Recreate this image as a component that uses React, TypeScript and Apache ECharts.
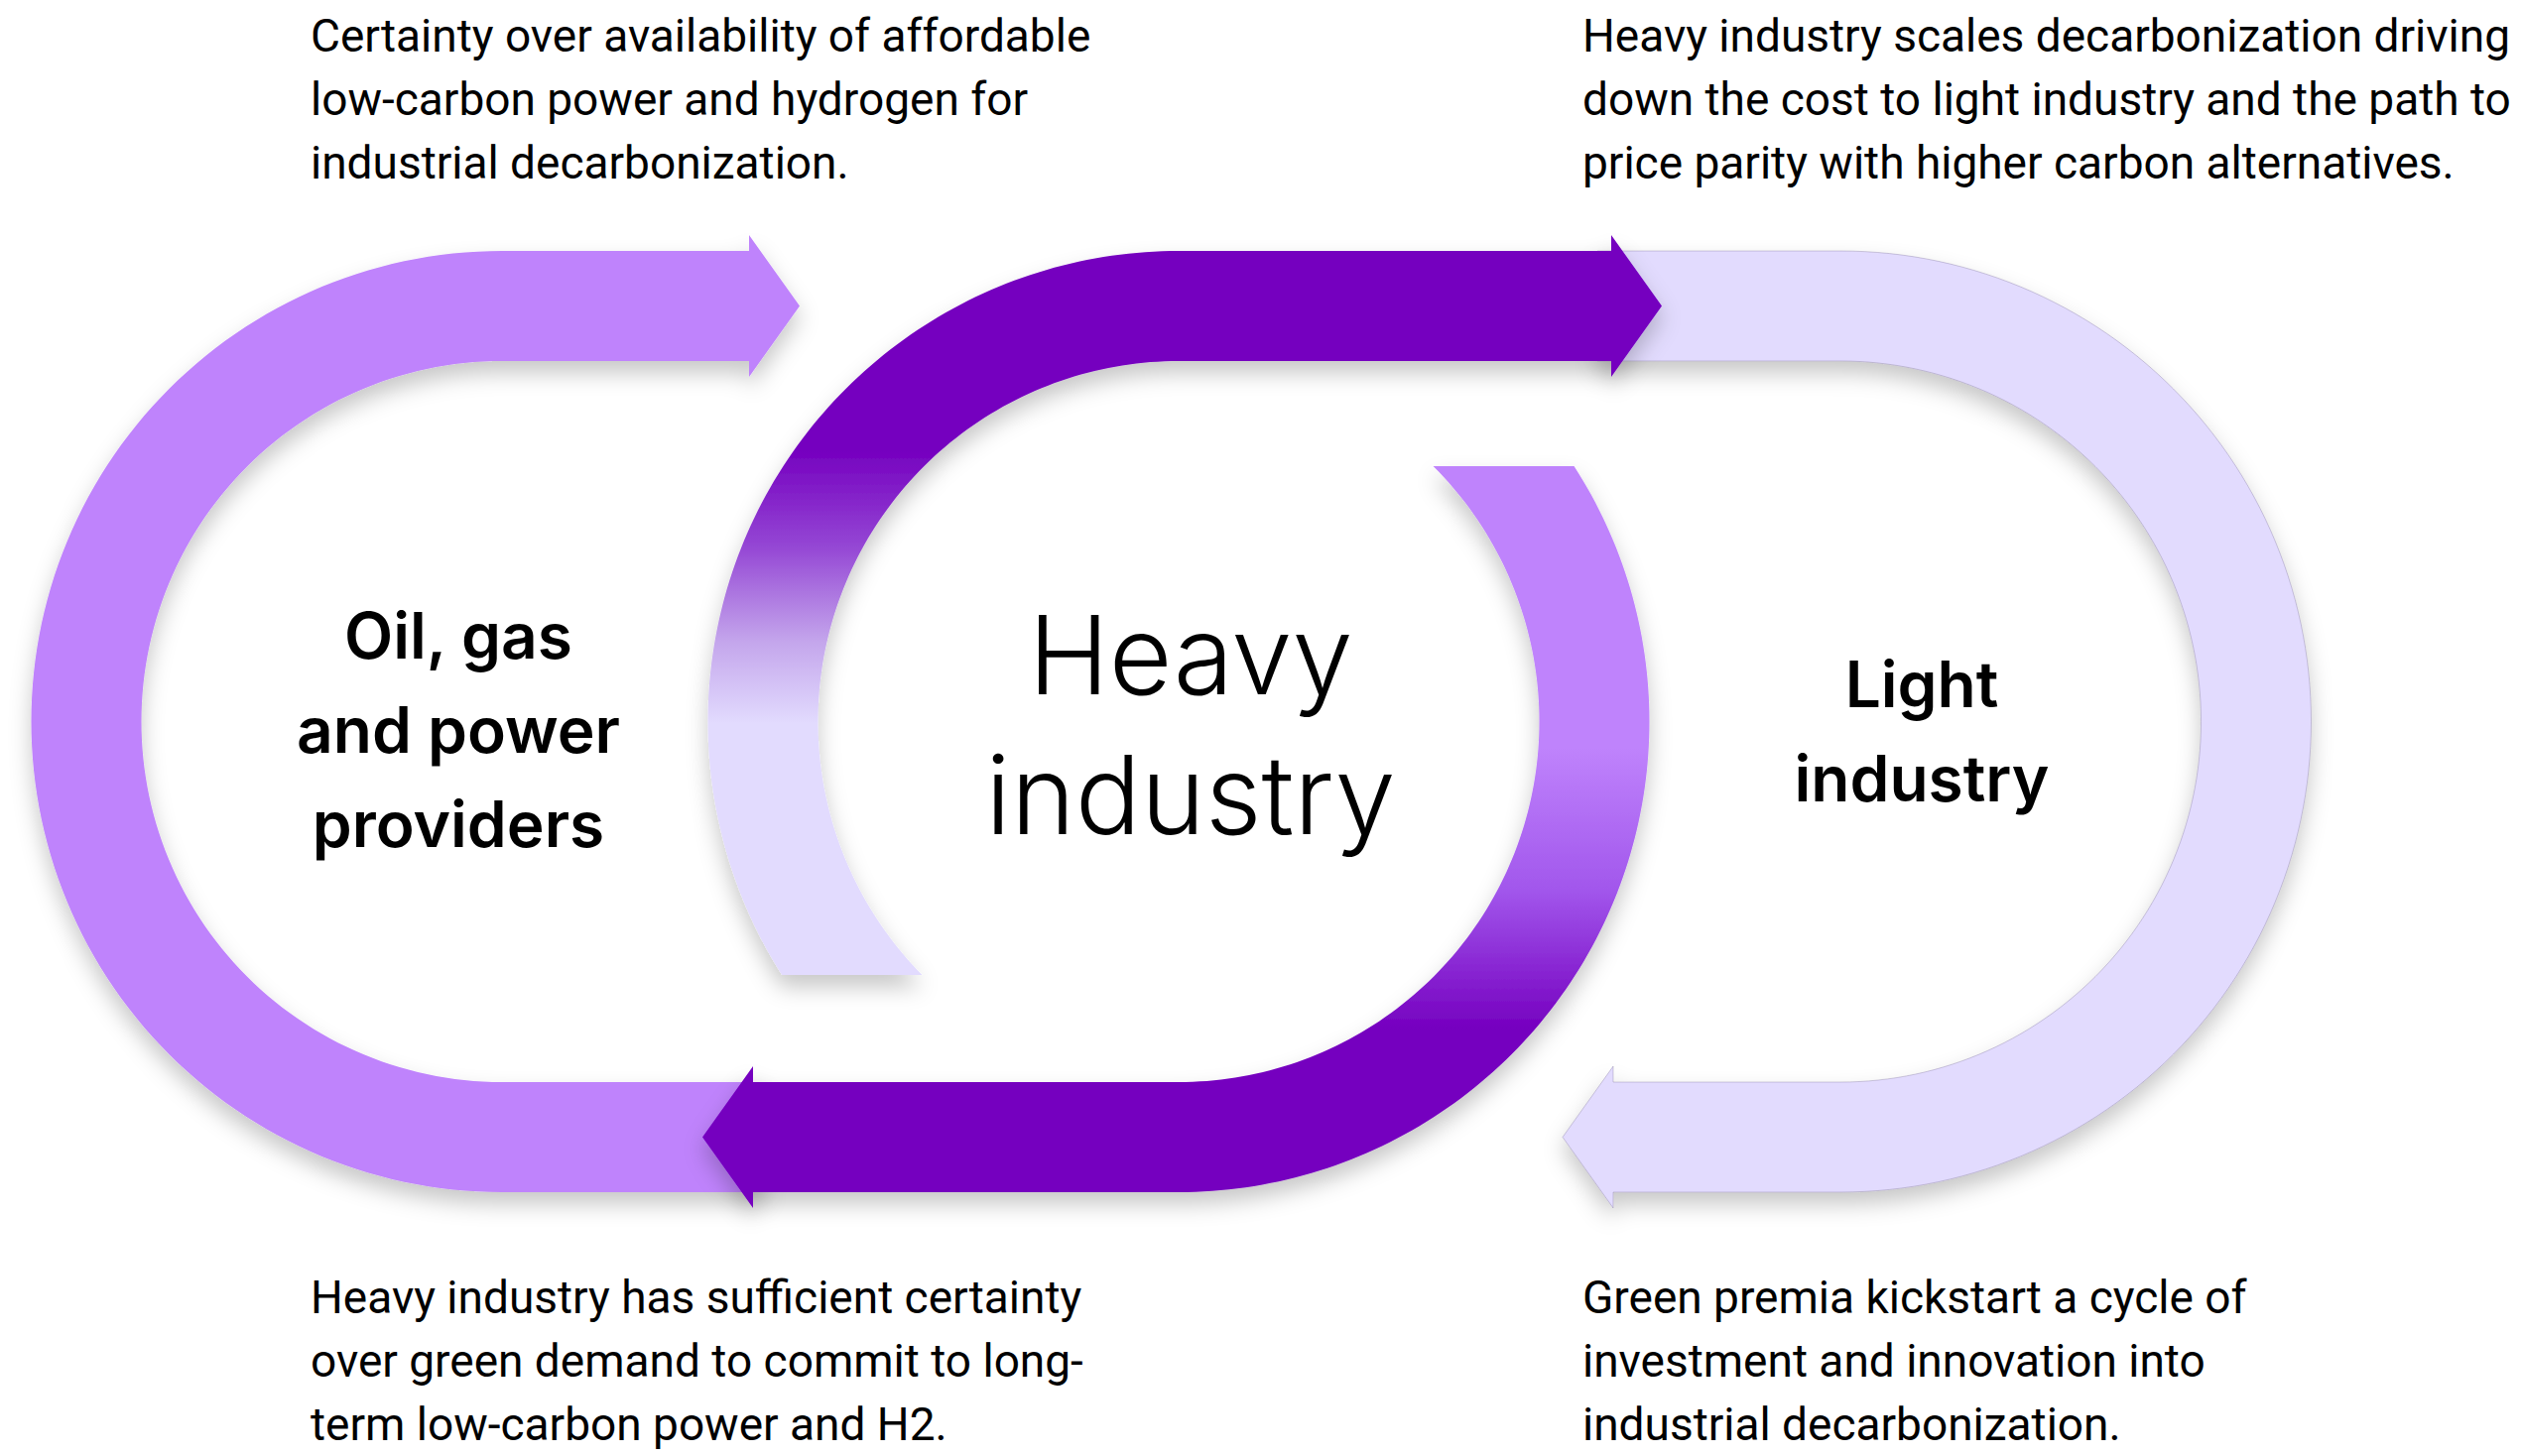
import React, { useEffect, useRef } from "react";
import * as echarts from "echarts";

// ---- Content ----
const topLeftText = [
  "Certainty over availability of affordable",
  "low-carbon power and hydrogen for",
  "industrial decarbonization.",
];
const topRightText = [
  "Heavy industry scales decarbonization driving",
  "down the cost to light industry and the path to",
  "price parity with higher carbon alternatives.",
];
const bottomLeftText = [
  "Heavy industry has sufficient certainty",
  "over green demand to commit to long-",
  "term low-carbon power and H2.",
];
const bottomRightText = [
  "Green premia kickstart a cycle of",
  "investment and innovation into",
  "industrial decarbonization.",
];
const leftLabel = ["Oil, gas", "and power", "providers"];
const centerLabel = ["Heavy", "industry"];
const rightLabel = ["Light", "industry"];

// ---- Palette ----
const C_MID = "#BF83FC";
const C_DARK = "#7500BF";
const C_LIGHT = "#E2DBFE";

// ---- Geometry (layout) ----
const CY = 727.5;
const R_OUT = 474.5;
const R_IN = 363.5;
const CX_L = 506;
const CX_M = 1188;
const CX_R = 1855;
const BAND_TOP = CY - R_OUT;
const BAND_TOP_IN = CY - R_IN;
const BAND_BOT_IN = CY + R_IN;
const BAND_BOT = CY + R_OUT;
const HEAD = 16;
const HEAD_LEN = 51;

type P = [number, number];
const deg = Math.PI / 180;
function arc(cx: number, cy: number, r: number, a0: number, a1: number): P[] {
  const n = 120;
  const pts: P[] = [];
  for (let i = 0; i <= n; i++) {
    const a = (a0 + ((a1 - a0) * i) / n) * deg;
    pts.push([cx + r * Math.cos(a), cy + r * Math.sin(a)]);
  }
  return pts;
}

function leftRing(): P[] {
  const baseX = 755;
  const midY = (BAND_TOP + BAND_TOP_IN) / 2;
  return [
    [baseX, BAND_TOP - HEAD],
    [baseX + HEAD_LEN, midY],
    [baseX, BAND_TOP_IN + HEAD],
    [baseX, BAND_TOP_IN],
    ...arc(CX_L, CY, R_IN, -90, -270),
    [770, BAND_BOT_IN],
    [770, BAND_BOT],
    ...arc(CX_L, CY, R_OUT, 90, 270),
    [baseX, BAND_TOP],
  ];
}

function midTop(): P[] {
  const baseX = 1624;
  const midY = (BAND_TOP + BAND_TOP_IN) / 2;
  const cutY = 983;
  const aIn = 180 - Math.asin((cutY - CY) / R_IN) / deg;
  const aOut = 180 - Math.asin((cutY - CY) / R_OUT) / deg;
  return [
    [baseX, BAND_TOP - HEAD],
    [baseX + HEAD_LEN, midY],
    [baseX, BAND_TOP_IN + HEAD],
    [baseX, BAND_TOP_IN],
    ...arc(CX_M, CY, R_IN, -90, aIn - 360),
    ...arc(CX_M, CY, R_OUT, aOut, 270),
    [baseX, BAND_TOP],
  ];
}

function midBottom(): P[] {
  const baseX = 759;
  const midY = (BAND_BOT_IN + BAND_BOT) / 2;
  const cutY = 470;
  const aIn = Math.asin((cutY - CY) / R_IN) / deg;
  const aOut = Math.asin((cutY - CY) / R_OUT) / deg;
  return [
    ...arc(CX_M, CY, R_IN, aIn, 90),
    [baseX, BAND_BOT_IN],
    [baseX, BAND_BOT_IN - HEAD],
    [baseX - HEAD_LEN, midY],
    [baseX, BAND_BOT + HEAD],
    [baseX, BAND_BOT],
    ...arc(CX_M, CY, R_OUT, 90, aOut),
  ];
}

function rightRing(): P[] {
  const baseX = 1626;
  const midY = (BAND_BOT_IN + BAND_BOT) / 2;
  return [
    [1610, BAND_TOP],
    ...arc(CX_R, CY, R_OUT, -90, 90),
    [baseX, BAND_BOT],
    [baseX, BAND_BOT + HEAD],
    [baseX - HEAD_LEN, midY],
    [baseX, BAND_BOT_IN - HEAD],
    [baseX, BAND_BOT_IN],
    ...arc(CX_R, CY, R_IN, 90, -90),
    [1610, BAND_TOP_IN],
  ];
}

const shadow = {
  shadowBlur: 22,
  shadowColor: "rgba(0,0,0,0.22)",
  shadowOffsetY: 12,
};

const PARA_FONT = "Roboto";
const LABEL_FONT = "Inter";

function para(lines: string[], x: number, y0: number) {
  return lines.map((t, i) => ({
    type: "text",
    x,
    y: y0 + i * 64,
    z: 10,
    style: {
      text: t,
      fill: "#000",
      fontFamily: PARA_FONT,
      fontSize: 46,
      fontWeight: 400,
      lineHeight: 44,
      align: "left",
      verticalAlign: "middle",
    },
  }));
}

function label(
  lines: string[],
  x: number,
  y: number,
  size: number,
  weight: number,
  lh: number
) {
  return {
    type: "text",
    x,
    y,
    z: 10,
    style: {
      text: lines.join("\n"),
      fill: "#000",
      fontFamily: LABEL_FONT,
      fontSize: size,
      fontWeight: weight,
      lineHeight: lh,
      align: "center",
      verticalAlign: "top",
    },
  };
}

export default function App() {
  const ref = useRef<HTMLDivElement>(null);
  useEffect(() => {
    if (!ref.current) return;
    const chart = echarts.init(ref.current, undefined, { renderer: "svg" });
    chart.setOption({
      animation: false,
      backgroundColor: "#ffffff",
      graphic: {
        elements: [
          {
            type: "polygon",
            z: 1,
            shape: { points: leftRing() },
            style: { fill: C_MID, ...shadow },
          },
          {
            type: "polygon",
            z: 1,
            shape: { points: rightRing() },
            style: {
              fill: C_LIGHT,
              stroke: "rgba(120,110,150,0.35)",
              lineWidth: 1,
              ...shadow,
            },
          },
          {
            type: "polygon",
            z: 2,
            shape: { points: midBottom() },
            style: {
              fill: {
                type: "linear",
                x: 0,
                y: 0,
                x2: 0,
                y2: 1,
                colorStops: [
                  { offset: 0, color: C_MID },
                  { offset: 0.38, color: C_MID },
                  { offset: 0.57, color: "#A257EC" },
                  { offset: 0.76, color: C_DARK },
                  { offset: 1, color: C_DARK },
                ],
              },
              ...shadow,
            },
          },
          {
            type: "polygon",
            z: 2,
            shape: { points: midTop() },
            style: {
              fill: {
                type: "linear",
                x: 0,
                y: 0,
                x2: 0,
                y2: 1,
                colorStops: [
                  { offset: 0, color: C_DARK },
                  { offset: 0.29, color: C_DARK },
                  { offset: 0.42, color: "#9446D4" },
                  { offset: 0.55, color: "#C4A6EC" },
                  { offset: 0.66, color: C_LIGHT },
                  { offset: 1, color: C_LIGHT },
                ],
              },
              ...shadow,
            },
          },
          ...para(topLeftText, 313, 36),
          ...para(topRightText, 1595, 36),
          ...para(bottomLeftText, 313, 1308),
          ...para(bottomRightText, 1595, 1308),
          label(leftLabel, 462, 593, 64, 600, 95),
          label(centerLabel, 1200, 589, 110, 300, 141),
          label(rightLabel, 1937, 642, 64, 600, 95),
        ],
      },
    });
    return () => chart.dispose();
  }, []);
  return (
    <div
      ref={ref}
      style={{ position: "fixed", left: 0, top: 0, width: 2542, height: 1468 }}
    />
  );
}
